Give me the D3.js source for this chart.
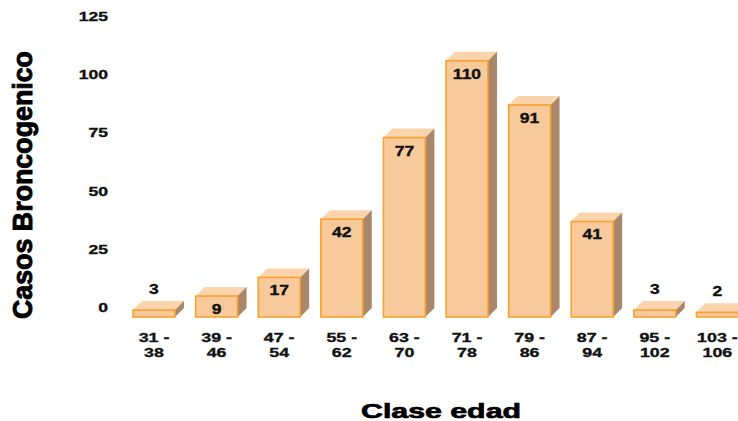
<!DOCTYPE html>
<html><head><meta charset="utf-8">
<script src="https://cdn.jsdelivr.net/npm/d3@7"></script>
<style>body{margin:0;background:#fff}svg{display:block;font-family:"Liberation Sans",Arial,sans-serif;font-weight:bold}</style>
</head><body>
<svg id="c" width="738" height="421"></svg>
<script>
const categories = ["31 - 38","39 - 46","47 - 54","55 - 62","63 - 70","71 - 78","79 - 86","87 - 94","95 - 102","103 - 106"];
const values = [3, 9, 17, 42, 77, 110, 91, 41, 3, 2];
const yTicks = [0, 25, 50, 75, 100, 125];

const svg = d3.select("#c");
const dx = 9, dy = 9, back = 10;
const x = d3.scaleBand().domain(categories).range([122.7, 748.7]).paddingInner(0.33).paddingOuter(0.165);
const y = d3.scaleLinear().domain([0, 125]).range([317, 317 - 125 * 2.33]);

function stretch(sel, k) {
  sel.each(function() {
    const l = this.getComputedTextLength();
    d3.select(this).attr("textLength", l * k).attr("lengthAdjust", "spacingAndGlyphs");
  });
}

// y tick labels (back plane)
const yt = svg.append("g").selectAll("text").data(yTicks).join("text")
  .attr("x", 108).attr("y", d => y(d) - back + 5)
  .attr("text-anchor", "end").attr("font-size", 13).attr("fill", "#111")
  .attr("stroke", "#111").attr("stroke-width", 0.35)
  .text(d => d);
stretch(yt, 1.35);

// bars
const w = x.bandwidth();
const g = svg.append("g");
values.forEach((v, i) => {
  const x0 = x(categories[i]);
  const top = y(v), bot = y(0);
  g.append("polygon")
    .attr("points", [[x0, top], [x0 + dx, top - dy], [x0 + w + dx, top - dy], [x0 + w, top]].join(" "))
    .attr("fill", "#FAD4AD");
  g.append("polygon")
    .attr("points", [[x0 + w, top], [x0 + w + dx, top - dy], [x0 + w + dx, bot - dy], [x0 + w, bot]].join(" "))
    .attr("fill", "#A8876A");
  g.append("rect").attr("x", x0).attr("y", top).attr("width", w).attr("height", bot - top)
    .attr("fill", "#F8C99B").attr("stroke", "#F9A12E").attr("stroke-width", 1.6);
});

// value labels
const vl = svg.append("g").selectAll("text").data(values).join("text")
  .attr("x", (d, i) => x(categories[i]) + w / 2)
  .attr("y", d => d < 5 ? y(d) - dy - 7 : y(d) + 18)
  .attr("text-anchor", "middle").attr("font-size", 14).attr("fill", "#111")
  .attr("stroke", "#111").attr("stroke-width", 0.35)
  .text(d => d);
stretch(vl, 1.25);

// category labels
const cl = svg.append("g");
categories.forEach((c, i) => {
  const parts = c.split(" - ");
  const cx = x(c) + w / 2;
  const t1 = cl.append("text").attr("x", cx).attr("y", 342).attr("text-anchor", "middle")
    .attr("font-size", 13.5).attr("fill", "#111").attr("stroke", "#111").attr("stroke-width", 0.35)
    .text(parts[0] + " -");
  const t2 = cl.append("text").attr("x", cx).attr("y", 357).attr("text-anchor", "middle")
    .attr("font-size", 13.5).attr("fill", "#111").attr("stroke", "#111").attr("stroke-width", 0.35)
    .text(parts[1]);
  stretch(t1, 1.32); stretch(t2, 1.32);
});

// axis titles
const xt = svg.append("text").attr("x", 441).attr("y", 418).attr("text-anchor", "middle")
  .attr("font-size", 21).attr("fill", "#000").attr("stroke", "#000").attr("stroke-width", 0.7)
  .text("Clase edad");
xt.attr("textLength", 160).attr("lengthAdjust", "spacingAndGlyphs");
const ytl = svg.append("text").attr("transform", "translate(32,185) rotate(-90)")
  .attr("text-anchor", "middle").attr("font-size", 27).attr("fill", "#000")
  .attr("stroke", "#000").attr("stroke-width", 0.9)
  .text("Casos Broncogenico");
ytl.attr("textLength", 268).attr("lengthAdjust", "spacingAndGlyphs");
</script>
</body></html>
